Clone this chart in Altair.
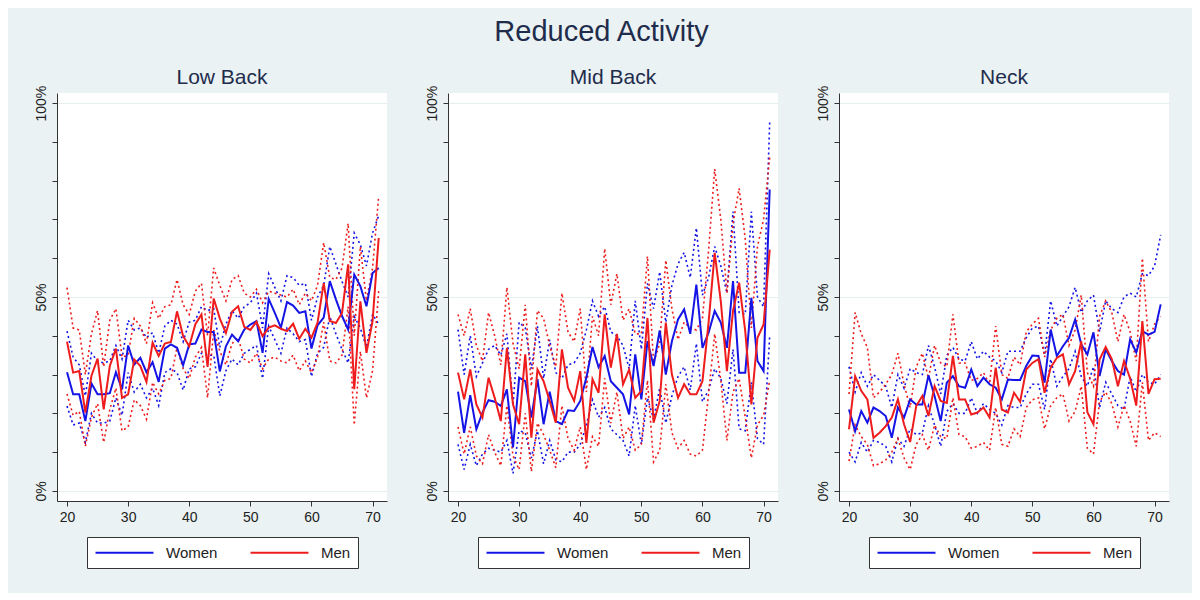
import altair as alt
import pandas as pd

ages = list(range(20, 72))

# ---------------- Low Back ----------------
lb_w = [30.6, 24.9, 24.9, 18.0, 27.7, 24.9, 24.9, 25.2, 30.6, 26.2,
        37.5, 32.6, 34.3, 30.6, 33.2, 28.1, 36.7, 37.8, 36.9, 32.4,
        37.8, 38.0, 41.6, 41.0, 41.0, 30.8, 37.3, 40.3, 38.6, 41.6,
        42.9, 43.8, 35.6, 49.5, 45.9, 42.1, 48.7, 47.8, 45.9, 46.3,
        36.7, 42.7, 44.7, 54.1, 49.4, 45.1, 41.6, 55.8, 52.8, 47.6,
        56.2, 57.5]
lb_wu = [41.2, 34.5, 32.5, 24.5, 35.5, 33.5, 33.0, 33.5, 37.5, 34.0,
         44.0, 41.5, 42.0, 39.5, 40.8, 35.5, 42.5, 44.0, 43.0, 38.5,
         43.5, 44.0, 47.5, 46.5, 47.0, 37.0, 43.0, 46.5, 44.5, 47.5,
         48.5, 51.0, 42.0, 56.0, 52.5, 49.0, 55.5, 55.0, 53.0, 53.5,
         44.0, 50.0, 53.0, 63.0, 58.5, 54.0, 50.0, 66.5, 63.5, 58.0,
         66.5, 71.0]
lb_wl = [21.9, 17.0, 17.5, 12.5, 20.0, 17.5, 17.5, 18.0, 24.0, 19.5,
         30.5, 25.5, 27.5, 24.0, 26.5, 22.0, 30.5, 31.5, 30.5, 26.0,
         31.5, 32.0, 35.5, 35.0, 35.0, 24.5, 31.0, 34.0, 32.5, 35.5,
         36.5, 37.5, 29.0, 42.5, 39.0, 35.5, 42.0, 40.5, 38.5, 39.0,
         29.5, 35.5, 37.0, 45.0, 40.5, 36.5, 33.0, 45.0, 42.0, 37.0,
         45.5, 43.0]
lb_m = [38.5, 30.5, 30.9, 20.2, 29.7, 34.1, 21.0, 32.2, 36.7, 24.0,
        24.9, 33.9, 32.2, 28.1, 38.2, 34.8, 38.0, 38.4, 46.3, 39.9,
        37.3, 43.0, 45.5, 32.0, 49.6, 44.5, 40.7, 46.2, 47.6, 42.3,
        41.5, 43.6, 39.9, 42.1, 42.7, 41.8, 41.2, 43.1, 39.2, 41.8,
        39.5, 43.4, 53.6, 43.8, 43.3, 45.9, 58.4, 26.2, 48.9, 35.6,
        43.8, 65.2]
lb_mu = [52.4, 42.0, 41.5, 30.0, 40.5, 46.5, 32.0, 44.0, 47.0, 34.5,
         35.0, 44.5, 42.5, 38.0, 48.5, 44.5, 47.5, 48.0, 54.5, 48.0,
         45.5, 51.5, 53.5, 40.0, 57.5, 53.0, 49.0, 54.5, 55.5, 51.0,
         50.0, 52.0, 48.5, 51.5, 51.0, 50.5, 50.0, 52.0, 48.0, 51.0,
         49.0, 53.0, 64.0, 55.0, 54.5, 57.5, 69.0, 40.0, 63.0, 49.0,
         57.5, 76.0]
lb_ml = [25.0, 19.5, 20.5, 11.5, 19.0, 22.5, 12.5, 21.0, 26.5, 15.5,
         16.5, 23.5, 22.0, 18.5, 28.0, 25.0, 28.5, 29.0, 37.0, 31.5,
         29.0, 34.5, 37.0, 24.0, 41.5, 36.0, 32.5, 38.0, 39.5, 34.0,
         33.0, 35.5, 31.5, 34.0, 34.5, 33.5, 33.0, 35.0, 31.0, 33.5,
         30.5, 34.5, 43.5, 33.5, 33.0, 35.0, 47.5, 17.0, 36.0, 24.0,
         31.0, 51.5]

# ---------------- Mid Back ----------------
mb_w = [25.6, 15.0, 24.7, 15.9, 20.2, 23.4, 23.0, 21.9, 26.2, 11.2,
        29.2, 28.3, 18.9, 28.8, 17.2, 25.6, 18.0, 17.2, 20.8, 20.6,
        23.2, 29.2, 37.1, 31.9, 34.8, 28.3, 26.6, 24.9, 19.7, 35.2,
        23.6, 38.6, 32.2, 41.4, 30.0, 38.6, 44.2, 46.8, 40.5, 53.2,
        36.9, 40.8, 46.4, 43.4, 36.9, 54.1, 30.5, 30.5, 49.8, 33.5,
        30.9, 77.7]
mb_wu = [41.6, 30.0, 40.0, 29.5, 33.0, 36.5, 37.5, 35.0, 40.5, 22.0,
         43.5, 42.0, 31.5, 42.5, 29.0, 39.0, 30.5, 29.0, 32.5, 33.0,
         35.5, 41.5, 49.0, 45.0, 47.5, 41.0, 40.0, 37.5, 31.5, 49.0,
         36.5, 53.5, 47.0, 56.5, 43.5, 53.0, 58.5, 61.5, 55.0, 67.8,
         50.5, 55.0, 63.0, 58.0, 51.0, 72.0, 46.0, 45.5, 72.0, 50.0,
         47.5, 95.0]
mb_wl = [12.0, 5.5, 12.0, 6.5, 9.5, 11.0, 10.5, 10.0, 13.0, 4.5,
         15.5, 15.0, 8.5, 15.5, 7.0, 13.0, 8.0, 7.5, 10.0, 10.0,
         12.0, 17.0, 23.5, 19.0, 21.5, 16.0, 14.5, 13.0, 9.0, 22.0,
         12.0, 24.0, 18.5, 26.5, 17.5, 24.5, 29.5, 32.0, 26.0, 38.0,
         23.0, 26.0, 31.5, 29.0, 22.5, 36.5, 16.0, 15.5, 28.0, 13.5,
         12.0, 40.0]
mb_m = [30.5, 23.6, 31.3, 22.3, 18.9, 29.2, 24.0, 18.0, 36.9, 22.3,
        17.2, 35.2, 13.7, 31.3, 28.3, 23.2, 17.6, 36.5, 26.6, 23.2,
        30.9, 12.4, 28.8, 25.3, 45.5, 31.8, 40.5, 27.5, 31.3, 24.0,
        25.8, 44.6, 17.6, 23.2, 43.4, 30.0, 24.0, 27.5, 24.9, 24.9,
        28.3, 43.4, 61.4, 48.9, 30.9, 46.4, 53.7, 41.2, 22.3, 39.5,
        42.9, 62.2]
mb_mu = [45.5, 40.0, 47.0, 37.5, 33.5, 46.0, 40.0, 32.5, 52.5, 38.0,
         31.5, 48.0, 27.0, 46.5, 44.5, 37.5, 32.0, 51.0, 41.0, 38.5,
         47.0, 25.5, 45.0, 40.0, 62.5, 48.0, 56.0, 44.0, 47.0, 40.5,
         40.5, 60.5, 33.0, 38.0, 59.5, 47.0, 39.0, 43.5, 42.0, 41.5,
         44.5, 62.0, 83.0, 70.0, 51.0, 69.0, 78.0, 65.0, 42.0, 63.0,
         70.0, 86.0]
mb_ml = [16.5, 9.5, 16.5, 9.0, 7.0, 14.5, 10.0, 6.5, 22.0, 9.0,
         5.5, 20.0, 5.0, 17.5, 14.5, 10.5, 6.0, 22.0, 13.5, 10.5,
         16.5, 5.5, 14.0, 11.5, 29.0, 17.5, 25.5, 13.5, 16.5, 10.5,
         12.0, 28.5, 7.5, 10.5, 27.5, 15.0, 11.0, 13.0, 9.5, 9.0,
         10.5, 25.0, 40.5, 28.5, 13.0, 25.5, 29.0, 19.0, 8.5, 17.0,
         19.5, 28.5]

# ---------------- Neck ----------------
nk_w = [21.0, 15.4, 20.6, 17.6, 21.5, 20.6, 19.3, 13.7, 21.5, 18.9,
        23.6, 22.3, 22.3, 29.8, 24.5, 18.0, 27.9, 29.6, 27.0, 26.6,
        31.3, 27.0, 29.2, 27.5, 26.6, 23.6, 28.7, 28.6, 28.6, 32.2,
        34.9, 34.8, 27.9, 41.6, 34.8, 37.3, 39.5, 44.2, 37.8, 35.2,
        40.9, 29.6, 36.5, 33.5, 30.9, 30.0, 39.1, 35.7, 41.2, 40.3,
        41.0, 48.1]
nk_wu = [32.0, 25.5, 30.5, 27.0, 30.0, 28.5, 27.0, 21.5, 30.0, 26.5,
         31.5, 30.5, 30.0, 37.5, 32.0, 25.0, 35.0, 37.0, 34.0, 33.5,
         38.5, 34.0, 36.0, 34.5, 33.5, 30.5, 36.0, 36.0, 36.0, 39.5,
         42.0, 42.5, 35.0, 49.0, 42.5, 45.0, 47.5, 52.5, 46.0, 49.0,
         50.5, 41.0, 49.0, 47.0, 46.0, 50.0, 51.0, 50.0, 56.0, 55.5,
         58.0, 66.0]
nk_wl = [10.0, 7.5, 12.5, 10.0, 13.0, 12.5, 11.5, 7.5, 13.5, 11.5,
         16.0, 14.5, 15.0, 22.0, 17.0, 11.5, 20.5, 22.5, 20.0, 20.0,
         24.0, 20.0, 22.5, 21.0, 20.0, 17.0, 22.0, 21.5, 21.5, 25.0,
         27.5, 27.5, 21.0, 34.0, 27.0, 29.5, 31.5, 36.0, 29.5, 27.0,
         32.0, 21.5, 28.0, 25.0, 22.0, 21.0, 29.5, 25.5, 30.0, 28.0,
         27.5, 30.0]
nk_m = [15.9, 29.6, 25.8, 23.6, 13.7, 15.0, 16.7, 18.9, 23.6, 17.2,
        12.6, 21.9, 24.5, 19.3, 27.0, 23.2, 22.7, 34.8, 23.6, 23.6,
        19.7, 20.2, 21.5, 18.9, 31.8, 21.0, 20.2, 25.3, 23.0, 31.3,
        33.0, 34.0, 25.3, 31.8, 34.3, 35.2, 27.5, 30.9, 38.6, 20.3,
        17.2, 33.9, 37.1, 34.0, 27.0, 33.5, 29.0, 22.0, 43.8, 25.0,
        28.8, 28.9]
nk_mu = [25.0, 46.0, 40.5, 37.0, 24.0, 25.5, 27.5, 30.0, 35.5, 27.5,
         21.5, 32.0, 35.5, 29.0, 37.5, 33.0, 32.0, 45.5, 33.0, 33.0,
         28.5, 29.0, 30.5, 27.5, 42.5, 30.0, 29.0, 34.5, 32.5, 41.0,
         43.0, 44.5, 34.5, 41.5, 44.5, 45.5, 37.5, 41.5, 50.5, 30.5,
         27.0, 45.0, 49.0, 46.0, 38.5, 45.5, 41.0, 33.5, 60.0, 38.5,
         43.0, 45.0]
nk_ml = [7.7, 17.0, 14.0, 12.0, 6.5, 7.0, 8.0, 10.0, 13.5, 8.5,
         5.5, 12.0, 14.5, 10.5, 17.0, 14.0, 13.5, 24.0, 14.5, 14.0,
         11.0, 11.5, 12.5, 10.5, 21.5, 12.0, 11.5, 16.0, 14.0, 21.5,
         23.5, 24.0, 16.0, 22.0, 24.0, 25.0, 18.0, 20.5, 27.0, 11.0,
         9.5, 23.0, 25.5, 22.5, 16.5, 22.0, 18.0, 11.5, 28.0, 13.0,
         15.0, 14.0]

panels = [
    ("Low Back", lb_w, lb_wl, lb_wu, lb_m, lb_ml, lb_mu),
    ("Mid Back", mb_w, mb_wl, mb_wu, mb_m, mb_ml, mb_mu),
    ("Neck", nk_w, nk_wl, nk_wu, nk_m, nk_ml, nk_mu),
]

rows = []
for name, w, wl, wu, m, ml, mu in panels:
    for sex, arrs in (("Women", (w, wl, wu)), ("Men", (m, ml, mu))):
        for stat, arr in zip(("mean", "lo", "hi"), arrs):
            assert len(arr) == len(ages)
            for a, v in zip(ages, arr):
                rows.append(dict(panel=name, age=a, sex=sex, stat=stat,
                                 series=sex + "_" + stat, value=v))
df = pd.DataFrame(rows)

BLUE = "#1414e6"
RED = "#ee1c1c"
FONT = "Liberation Sans"
TXT = "#222222"
NAVY = "#1f2c4c"

color_scale = alt.Scale(domain=["Women", "Men"], range=[BLUE, RED])

x_enc = alt.X(
    "age:Q",
    scale=alt.Scale(domain=[18.36, 72.36], nice=False, zero=False),
    axis=alt.Axis(values=[20, 30, 40, 50, 60, 70], title=None, grid=False,
                  labelFontSize=14, labelPadding=4, tickSize=5,
                  labelFlush=False),
)
y_enc = alt.Y(
    "value:Q",
    scale=alt.Scale(domain=[-2.6, 102.6], nice=False, zero=False),
    axis=alt.Axis(values=list(range(0, 101, 10)), title=None,
                  labelExpr="datum.value % 50 === 0 ? datum.value + '%' : ''",
                  labelAngle=270, labelAlign="center", labelBaseline="bottom",
                  labelFontSize=14, labelPadding=4, tickSize=5,
                  labelFlush=False,
                  grid=True, gridColor="#e6eef0", gridWidth=1,
                  gridOpacity={"condition": {"test": "datum.value % 50 === 0", "value": 1},
                               "value": 0}),
)

# legend line symbol: custom path 8 units long, scaled so it is ~58 px
legend = alt.Legend(
    title=None, orient="none", legendX=30, legendY=444, direction="horizontal",
    symbolType="M-4,0H4", symbolSize=210, symbolStrokeWidth=2, symbolDash=[1, 0],
    symbolOffset=22, labelOffset=33,
    labelFontSize=15, labelFont=FONT, labelColor=TXT,
    columnPadding=28, padding=7, strokeColor="#333333", fillColor="white",
)
color_enc = alt.Color("sex:N", scale=color_scale, legend=legend)


def panel(name):
    base = alt.Chart(df).transform_filter(alt.datum.panel == name)
    ci = base.transform_filter(alt.datum.stat != "mean").mark_line(
        strokeDash=[2, 3], strokeWidth=1.6
    ).encode(x=x_enc, y=y_enc, color=color_enc, detail="series:N")
    wm = base.transform_filter(
        (alt.datum.stat == "mean") & (alt.datum.sex == "Women")
    ).mark_line(strokeWidth=2).encode(x=x_enc, y=y_enc, color=color_enc)
    mm = base.transform_filter(
        (alt.datum.stat == "mean") & (alt.datum.sex == "Men")
    ).mark_line(strokeWidth=2).encode(x=x_enc, y=y_enc, color=color_enc)
    return alt.layer(ci, wm, mm).properties(
        width=330, height=408,
        title=alt.TitleParams(name, fontSize=21, font=FONT, color=NAVY,
                              fontWeight="normal", anchor="middle", offset=-3),
    )


chart = alt.hconcat(
    panel("Low Back"), panel("Mid Back"), panel("Neck"), spacing=38
).resolve_scale(color="independent").resolve_legend(color="independent").properties(
    title=alt.TitleParams("Reduced Activity", fontSize=29, font=FONT, color=NAVY,
                          fontWeight="normal", anchor="middle", offset=20),
    background="#eaf2f3",
    padding={"left": 26, "top": 10, "right": 23, "bottom": 24},
).configure_view(
    stroke=None, fill="white"
).configure_axis(
    domainColor="#333333", tickColor="#333333", labelColor=TXT, labelFont=FONT,
)

chart.save("out.html", embed_options={"renderer": "svg", "actions": False})
